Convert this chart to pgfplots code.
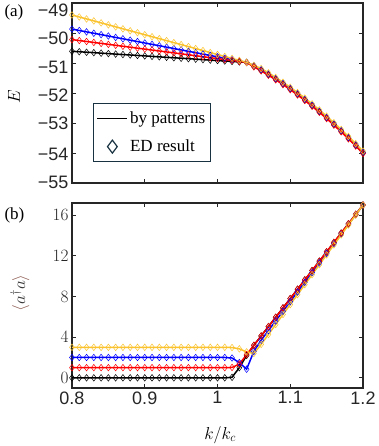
\documentclass[border=0pt]{standalone}
\usepackage{fontspec}
\setmainfont{Liberation Serif}
\setsansfont{Liberation Sans}
\usepackage{pgfplots}
\usepackage{pgfplotstable}
\pgfplotsset{compat=1.18}
\usetikzlibrary{calc}

\definecolor{cyel}{RGB}{250,195,45}
\definecolor{cblu}{RGB}{0,0,255}
\definecolor{cred}{RGB}{255,0,0}
\definecolor{axc}{RGB}{38,38,38}
\definecolor{legc}{RGB}{25,50,65}
\definecolor{brn}{RGB}{140,90,80}

\pgfplotsset{
  legline/.style={legend image code/.code={\draw[##1] (0pt,0pt) -- (30pt,0pt);}},
  legmark/.style={legend image code/.code={\draw[mark repeat=2, mark phase=2, ##1]
    plot coordinates {(0pt,0pt) (15pt,0pt) (30pt,0pt)};}},
}
\newcommand\dn[2]{\raisebox{-#1}[\height][\depth]{#2}}

% columns: k/kc, energy E, photon number <a^+a>
\pgfplotstableread{
x E n
0.80 -49.400 3.00
0.81 -49.466 3.00
0.82 -49.532 3.00
0.83 -49.597 3.00
0.84 -49.663 3.00
0.85 -49.729 3.00
0.86 -49.795 3.00
0.87 -49.861 3.00
0.88 -49.927 3.00
0.89 -49.992 3.00
0.90 -50.058 3.00
0.91 -50.124 3.00
0.92 -50.190 3.00
0.93 -50.256 3.00
0.94 -50.322 3.00
0.95 -50.387 3.00
0.96 -50.453 3.00
0.97 -50.519 3.00
0.98 -50.585 3.00
0.99 -50.651 3.00
1.00 -50.717 3.00
1.01 -50.782 3.00
1.02 -50.848 2.98
1.03 -50.914 2.85
1.04 -50.975 2.55
1.05 -51.078 2.40
1.06 -51.184 3.29
1.07 -51.328 4.27
1.08 -51.481 5.25
1.09 -51.641 6.23
1.10 -51.809 7.21
1.11 -51.986 8.19
1.12 -52.171 9.17
1.13 -52.363 10.15
1.14 -52.564 11.13
1.15 -52.773 12.10
1.16 -52.990 13.08
1.17 -53.215 14.06
1.18 -53.448 15.04
1.19 -53.689 16.02
1.20 -53.938 17.00
}\tyel

\pgfplotstableread{
x E n
0.80 -49.870 2.00
0.81 -49.916 2.00
0.82 -49.963 2.00
0.83 -50.009 2.00
0.84 -50.055 2.00
0.85 -50.101 2.00
0.86 -50.148 2.00
0.87 -50.194 2.00
0.88 -50.240 2.00
0.89 -50.286 2.00
0.90 -50.333 2.00
0.91 -50.379 2.00
0.92 -50.425 2.00
0.93 -50.471 2.00
0.94 -50.518 2.00
0.95 -50.564 2.00
0.96 -50.610 2.00
0.97 -50.656 2.00
0.98 -50.703 2.00
0.99 -50.749 2.00
1.00 -50.795 2.00
1.01 -50.841 2.00
1.02 -50.888 1.95
1.03 -50.934 1.50
1.04 -50.978 0.85
1.05 -51.088 2.60
1.06 -51.224 3.70
1.07 -51.368 4.65
1.08 -51.521 5.60
1.09 -51.681 6.55
1.10 -51.849 7.50
1.11 -52.026 8.45
1.12 -52.211 9.40
1.13 -52.403 10.35
1.14 -52.604 11.30
1.15 -52.813 12.25
1.16 -53.030 13.20
1.17 -53.255 14.15
1.18 -53.488 15.10
1.19 -53.729 16.05
1.20 -53.978 17.00
}\tblu

\pgfplotstableread{
x E n
0.80 -50.220 1.00
0.81 -50.252 1.00
0.82 -50.283 1.00
0.83 -50.315 1.00
0.84 -50.347 1.00
0.85 -50.378 1.00
0.86 -50.410 1.00
0.87 -50.442 1.00
0.88 -50.473 1.00
0.89 -50.505 1.00
0.90 -50.537 1.00
0.91 -50.568 1.00
0.92 -50.600 1.00
0.93 -50.632 1.00
0.94 -50.663 1.00
0.95 -50.695 1.00
0.96 -50.727 1.00
0.97 -50.758 1.00
0.98 -50.790 1.00
0.99 -50.822 1.00
1.00 -50.853 1.00
1.01 -50.885 1.00
1.02 -50.917 1.02
1.03 -50.948 1.35
1.04 -50.985 2.28
1.05 -51.128 3.20
1.06 -51.264 4.12
1.07 -51.408 5.04
1.08 -51.561 5.96
1.09 -51.721 6.88
1.10 -51.889 7.80
1.11 -52.066 8.72
1.12 -52.251 9.64
1.13 -52.443 10.56
1.14 -52.644 11.48
1.15 -52.853 12.40
1.16 -53.070 13.32
1.17 -53.295 14.24
1.18 -53.528 15.16
1.19 -53.769 16.08
1.20 -54.018 17.00
}\tred

\pgfplotstableread{
x E n
0.80 -50.610 0.00
0.81 -50.625 0.00
0.82 -50.641 0.00
0.83 -50.656 0.00
0.84 -50.672 0.00
0.85 -50.687 0.00
0.86 -50.703 0.00
0.87 -50.718 0.00
0.88 -50.733 0.00
0.89 -50.749 0.00
0.90 -50.764 0.00
0.91 -50.780 0.00
0.92 -50.795 0.00
0.93 -50.810 0.00
0.94 -50.826 0.00
0.95 -50.841 0.00
0.96 -50.857 0.00
0.97 -50.872 0.00
0.98 -50.887 0.00
0.99 -50.903 0.00
1.00 -50.918 0.00
1.01 -50.934 0.00
1.02 -50.949 0.05
1.03 -50.965 1.00
1.04 -50.980 2.20
1.05 -51.108 3.20
1.06 -51.244 4.12
1.07 -51.388 5.04
1.08 -51.541 5.96
1.09 -51.701 6.88
1.10 -51.869 7.80
1.11 -52.046 8.72
1.12 -52.231 9.64
1.13 -52.423 10.56
1.14 -52.624 11.48
1.15 -52.833 12.40
1.16 -53.050 13.32
1.17 -53.275 14.24
1.18 -53.508 15.16
1.19 -53.749 16.08
1.20 -53.998 17.00
}\tblk

\begin{document}
\begin{tikzpicture}
\pgfplotsset{
  panel/.style={scale only axis, width=291pt, xmin=0.8, xmax=1.2,
    xtick={0.8,0.9,1,1.1,1.2}, tick align=inside, tick pos=both,
    major tick length=4pt, axis line style={line width=1.1pt, draw=axc},
    tick style={line width=0.8pt, draw=axc},
    ticklabel style={font=\sffamily\fontsize{18}{18}\selectfont, text=axc},
    label style={font=\fontsize{18}{18}\selectfont}},
  lin/.style={line width=1.5pt, mark=none, forget plot},
  mk/.style={only marks, mark=diamond, mark size=3.3pt,
    mark options={line width=0.5pt, fill=none}, forget plot},
}

\begin{axis}[panel, name=top, height=180pt,
  ymin=-55, ymax=-49, ytick={-55,-54,-53,-52,-51,-50,-49},
  yticklabels={\dn{-1pt}{−55},\dn{1pt}{−54},−53,\dn{2pt}{−52},\dn{4pt}{−51},\dn{5pt}{−50},\dn{7pt}{−49}},
  xticklabels={},
  ylabel={$E$}, ylabel style={at={(axis description cs:-0.199,0.48)}, anchor=center},
  legend style={at={(0.0722,0.444)}, anchor=north west, draw=legc, line width=1.2pt,
    fill=white, font=\fontsize{17}{17}\selectfont, inner xsep=3pt, inner ysep=6pt,
    row sep=11pt, cells={anchor=west}}]
\addplot[black, lin] table[x=x, y=E] {\tblk};
\addplot[black, mk] table[x=x, y=E] {\tblk};
\addplot[cblu, lin] table[x=x, y=E] {\tblu};
\addplot[cblu, mk] table[x=x, y=E] {\tblu};
\addplot[cred, lin] table[x=x, y=E] {\tred};
\addplot[cred, mk] table[x=x, y=E] {\tred};
\addplot[cyel, lin] table[x=x, y=E] {\tyel};
\addplot[cyel, mk] table[x=x, y=E] {\tyel};
\addlegendimage{black, line width=1.5pt, legline}
\addlegendentry{by patterns}
\addlegendimage{legc, only marks, mark=diamond, mark size=6.5pt,
  mark options={line width=1.2pt, fill=none}, legmark}
\addlegendentry{ED result}
\end{axis}

\begin{axis}[panel, name=bot, at={($(top.south west)+(0,-20pt)$)}, anchor=north west,
  height=185pt, ymin=-1, ymax=17.2, ytick={0,4,8,12,16},
  xticklabels={0.8,0.9,1,1.1,1.2},
  xlabel={$k/k_c$}, xlabel style={at={(axis description cs:0.509,-0.254)}, anchor=center},
  ylabel={\textcolor{brn}{$\langle$}$a^{\dagger}a$\textcolor{brn}{$\rangle$}},
  ylabel style={at={(axis description cs:-0.179,0.514)}, anchor=center, text=black!80}]
\addplot[black, lin] table[x=x, y=n] {\tblk};
\addplot[black, mk] table[x=x, y=n] {\tblk};
\addplot[cblu, lin] table[x=x, y=n] {\tblu};
\addplot[cblu, mk] table[x=x, y=n] {\tblu};
\addplot[cred, lin] table[x=x, y=n] {\tred};
\addplot[cred, mk] table[x=x, y=n] {\tred};
\addplot[cyel, lin] table[x=x, y=n] {\tyel};
\addplot[cyel, mk] table[x=x, y=n] {\tyel};
\end{axis}

\node[anchor=west, font=\fontsize{17}{17}\selectfont] at ($(top.north west)+(-71pt,-9pt)$) {(a)};
\node[anchor=west, font=\fontsize{17}{17}\selectfont] at ($(bot.north west)+(-71pt,-12pt)$) {(b)};

\pgfresetboundingbox
\path (top.north west) ++(-72pt,3pt) rectangle ++(378pt,-446pt);
\end{tikzpicture}
\end{document}
